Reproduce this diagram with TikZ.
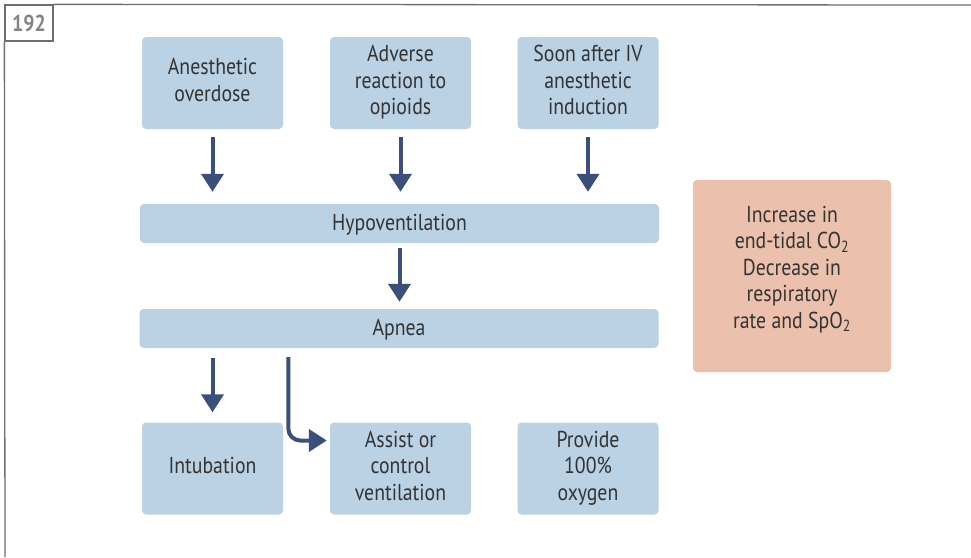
\documentclass[tikz,border=0pt]{standalone}
\usepackage{fontspec}
\setmainfont{PT Sans}[FakeStretch=0.86]
\usetikzlibrary{arrows.meta}
\definecolor{boxblue}{HTML}{BBD1E4}
\definecolor{arrowblue}{HTML}{3B4F7B}
\definecolor{signpink}{HTML}{EBC0AD}
\definecolor{txtgray}{HTML}{333333}
\definecolor{framegray}{HTML}{6E6E6E}

\begin{document}
\begin{tikzpicture}[x=1pt,y=-1pt,font=\fontsize{23}{26.5}\selectfont]
  \tikzstyle{cause}=[rectangle,fill=boxblue,rounded corners=4pt,minimum width=141pt,minimum height=92pt,inner sep=0pt,align=center,text=txtgray,text depth=6pt]
  \tikzstyle{bar}=[cause,minimum width=519pt,minimum height=39pt,text depth=3pt]
  \tikzstyle{flow}=[draw=arrowblue,line width=4pt,-{Triangle[length=18pt,width=22pt]}]
  \useasboundingbox (0,0) rectangle (971,557);
  % frame and figure number
  \node[draw=framegray,line width=1.3pt,minimum width=48pt,minimum height=36pt,inner sep=0pt,text=framegray!85,font=\fontsize{23}{23}\selectfont\bfseries] (num) at (29,23) {192};
  \draw[framegray,line width=1.3pt] (num.north east) -- (971,5);
  \draw[framegray,line width=1.3pt] (num.south west) -- (5,557);
  % causes
  \node[cause] (od) at (212.5,83) {Anesthetic\\overdose};
  \node[cause] (adv) at (400.5,83) {Adverse\\reaction to\\opioids};
  \node[cause] (iv) at (588,83) {Soon after IV\\anesthetic\\induction};
  \node[bar] (hypo) at (399.5,223.5) {Hypoventilation};
  \node[bar] (apnea) at (399,328.5) {Apnea};
  \node[cause] (intub) at (212.5,468.5) {Intubation};
  \node[cause] (assist) at (400.5,468.5) {Assist or\\control\\ventilation};
  \node[cause] (oxy) at (588,468.5) {Provide\\100\%\\oxygen};
  \node[cause,fill=signpink,minimum width=198pt,minimum height=192pt,text depth=18pt] (signs) at (792,276) {Increase in\\end-tidal CO\textsubscript{2}\\Decrease in\\respiratory\\rate and SpO\textsubscript{2}};
  % arrows
  \draw[flow,shorten <=8pt,shorten >=12pt] (od.south) -- (od.south |- hypo.north);
  \draw[flow,shorten <=8pt,shorten >=12pt] (adv.south) -- (adv.south |- hypo.north);
  \draw[flow,shorten <=8pt,shorten >=12pt] (iv.south) -- (iv.south |- hypo.north);
  \draw[flow,shorten <=5pt,shorten >=7pt] (hypo.south) -- (hypo.south |- apnea.north);
  \draw[flow,shorten <=10pt,shorten >=10pt] (intub.north |- apnea.south) -- (intub.north);
  \draw[flow,rounded corners=12pt,shorten <=9pt,shorten >=3pt] ([xshift=149pt]apnea.south west) |- ([yshift=28pt]assist.west);
\end{tikzpicture}
\end{document}
